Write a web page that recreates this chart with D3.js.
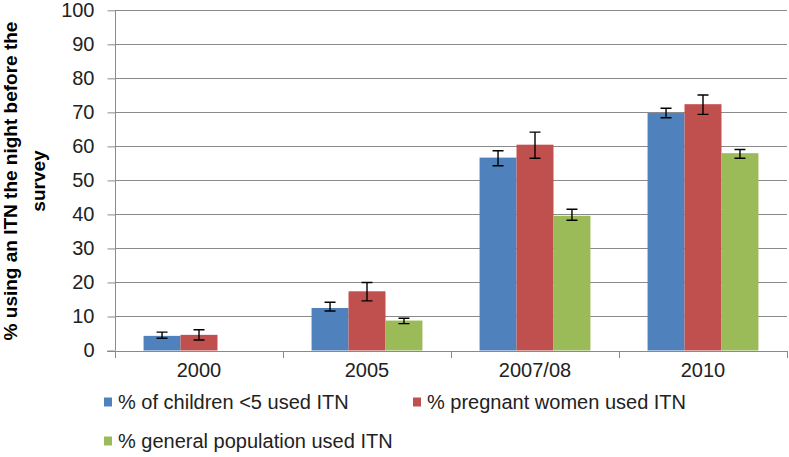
<!DOCTYPE html>
<html>
<head>
<meta charset="utf-8">
<script src="https://cdn.jsdelivr.net/npm/d3@7"></script>
<style>
  html, body { margin: 0; padding: 0; background: #fff; }
  svg { display: block; }
  text { font-family: "Liberation Sans", Arial, sans-serif; }
</style>
</head>
<body>
<svg id="chart" width="789" height="457"></svg>
<script>
const categories = ["2000", "2005", "2007/08", "2010"];
const seriesNames = ["% of children <5 used ITN", "% pregnant women used ITN", "% general population used ITN"];
const childrenValues = [4.3, 12.5, 56.7, 69.8];
const pregnantValues = [4.6, 17.4, 60.5, 72.4];
const generalValues = [null, 8.8, 39.6, 58.0];
const childrenLow = [3.6, 11.6, 54.3, 68.4];
const childrenHigh = [5.4, 14.2, 58.7, 71.2];
const pregnantLow = [3.1, 14.6, 56.5, 69.4];
const pregnantHigh = [6.1, 20.0, 64.2, 75.1];
const generalLow = [null, 7.9, 38.3, 56.5];
const generalHigh = [null, 9.5, 41.5, 59.1];
const yTicks = [0, 10, 20, 30, 40, 50, 60, 70, 80, 90, 100];
const colors = ["#4F81BD", "#C0504D", "#9BBB59"];
const yTitleLines = ["% using an ITN the night before the", "survey"];

const series = [
  { name: seriesNames[0], values: childrenValues, low: childrenLow, high: childrenHigh },
  { name: seriesNames[1], values: pregnantValues, low: pregnantLow, high: pregnantHigh },
  { name: seriesNames[2], values: generalValues, low: generalLow, high: generalHigh }
];

const svg = d3.select("#chart");
const plot = { left: 115, right: 787, top: 10.3, bottom: 350.5 };
const gridColor = "#8a8a8a";

const y = d3.scaleLinear().domain([0, 100]).range([plot.bottom, plot.top]);
const x0 = d3.scaleBand().domain(categories).range([plot.left, plot.right])
  .paddingInner(0.34).paddingOuter(0.17);
const x1 = d3.scaleBand().domain(d3.range(series.length)).range([0, x0.bandwidth()]);

// gridlines
svg.append("g").selectAll("line").data(yTicks.filter(t => t > 0)).join("line")
  .attr("x1", plot.left).attr("x2", plot.right)
  .attr("y1", d => Math.round(y(d)) + 0.5).attr("y2", d => Math.round(y(d)) + 0.5)
  .attr("stroke", gridColor).attr("stroke-width", 1);

// y axis
const yAxis = svg.append("g").attr("transform", `translate(${plot.left + 0.5},0)`)
  .call(d3.axisLeft(y).tickValues(yTicks).tickSize(8).tickPadding(13));
yAxis.select(".domain").attr("stroke", gridColor).attr("d", `M0,${plot.top}V${plot.bottom}`);
yAxis.selectAll(".tick line").attr("stroke", gridColor);
yAxis.selectAll(".tick text").attr("font-size", 20).attr("fill", "#222")
  .attr("font-family", "Liberation Sans, Arial, sans-serif");

// bars
const groups = svg.append("g").selectAll("g").data(series).join("g")
  .attr("fill", (d, i) => colors[i]);
groups.each(function (s, si) {
  const g = d3.select(this);
  const rows = categories.map((c, ci) => ({ c, v: s.values[ci], lo: s.low[ci], hi: s.high[ci] }))
    .filter(r => r.v != null);
  g.selectAll("rect").data(rows).join("rect")
    .attr("x", r => x0(r.c) + x1(si))
    .attr("width", x1.bandwidth())
    .attr("y", r => y(r.v))
    .attr("height", r => y(0) - y(r.v));
});

// x axis
const xAxis = svg.append("g").attr("transform", `translate(0,${Math.round(plot.bottom) + 0.5})`)
  .call(d3.axisBottom(x0).tickSize(0).tickPadding(11));
xAxis.select(".domain").attr("stroke", gridColor).attr("d", `M${plot.left - 8},0H${plot.right}`);
xAxis.selectAll(".tick text").attr("font-size", 20).attr("fill", "#222")
  .attr("font-family", "Liberation Sans, Arial, sans-serif");
// category boundary ticks
svg.append("g").selectAll("line").data(d3.range(categories.length + 1)).join("line")
  .attr("x1", i => Math.round(plot.left + i * (plot.right - plot.left) / categories.length) + 0.5)
  .attr("x2", i => Math.round(plot.left + i * (plot.right - plot.left) / categories.length) + 0.5)
  .attr("y1", Math.round(plot.bottom)).attr("y2", Math.round(plot.bottom) + 7)
  .attr("stroke", gridColor);

// error bars
const capHalf = 5.5;
const eb = svg.append("g").attr("stroke", "#000").attr("stroke-width", 1.4).attr("fill", "none");
series.forEach((s, si) => {
  categories.forEach((c, ci) => {
    if (s.values[ci] == null) return;
    const cx = x0(c) + x1(si) + x1.bandwidth() / 2;
    const yl = y(s.low[ci]), yh = y(s.high[ci]);
    eb.append("path").attr("d",
      `M${cx},${yh}V${yl}M${cx - capHalf},${yh}H${cx + capHalf}M${cx - capHalf},${yl}H${cx + capHalf}`);
  });
});

// y title
const yTitle = svg.append("text")
  .attr("transform", "translate(17,181) rotate(-90)")
  .attr("text-anchor", "middle").attr("font-weight", "bold").attr("font-size", 19).attr("fill", "#000");
yTitle.selectAll("tspan").data(yTitleLines).join("tspan")
  .attr("x", 0).attr("dy", (d, i) => i === 0 ? 0 : 28).text(d => d);

// legend
const legendPos = [
  { x: 104, y: 402 },
  { x: 413, y: 402 },
  { x: 104, y: 441 }
];
const legend = svg.append("g").selectAll("g").data(series).join("g")
  .attr("transform", (d, i) => `translate(${legendPos[i].x},${legendPos[i].y})`);
legend.append("rect").attr("x", 0).attr("y", -4.5).attr("width", 8).attr("height", 9)
  .attr("fill", (d, i) => colors[i]);
legend.append("text").attr("x", 14).attr("dy", "0.35em").attr("font-size", 20).attr("fill", "#222")
  .text(d => d.name);
</script>
</body>
</html>
